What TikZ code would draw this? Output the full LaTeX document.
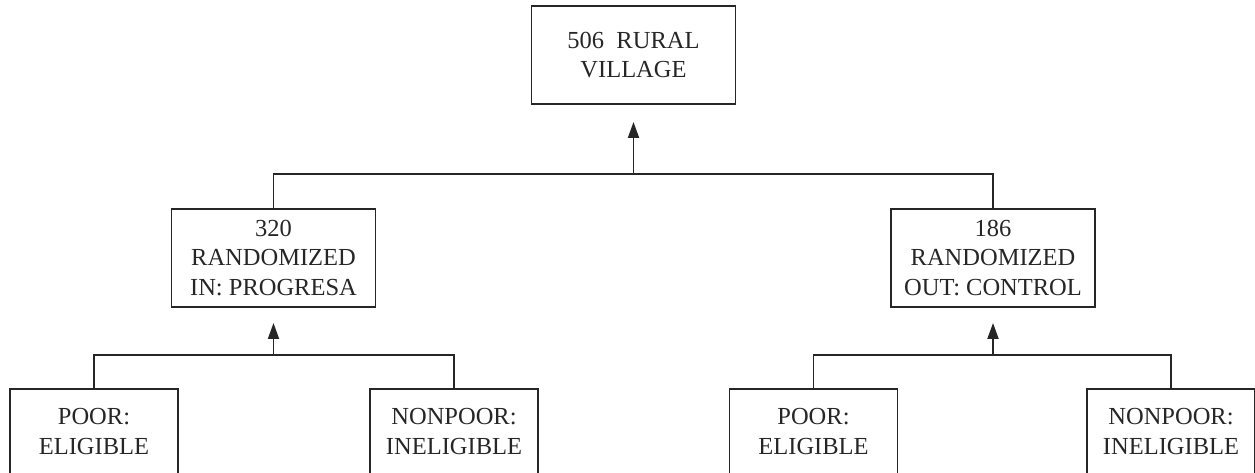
\documentclass[tikz,border=0pt]{standalone}
\usepackage{fontspec}
\setmainfont{Liberation Serif}
\usepackage{xcolor}
\usepackage{tikz}
\usetikzlibrary{arrows.meta, positioning, calc}
\definecolor{tinta}{HTML}{262626}
\tikzset{
  every picture/.style={>=Triangle},
  caja/.style={draw=tinta, text=tinta, line width=1.9pt, align=center, inner sep=0pt,
               font=\fontsize{24.5}{29.5}\selectfont},
  grande/.style={caja, minimum width=204pt, minimum height=98pt},
  chica/.style={caja, minimum width=168pt, minimum height=85pt},
  linea/.style={draw=tinta, line width=1.9pt},
  flecha/.style={linea, -{Triangle[length=16pt, width=11pt]}},
}
\begin{document}
\begin{tikzpicture}[x=1pt, y=-1pt]
  \useasboundingbox (0,0) rectangle (1255,472);
  \node[grande] (pueblo) at (633.5,55) {506~~RURAL\\VILLAGE};
  \node[grande] (prog) at (273.5,258) {320\\RANDOMIZED\\IN: PROGRESA};
  \node[grande] (ctrl) at (993,258) {186\\RANDOMIZED\\OUT: CONTROL};
  \node[chica] (pp) at (94,431.5) {POOR:\\ELIGIBLE};
  \node[chica] (pn) at (454,431.5) {NONPOOR:\\INELIGIBLE};
  \node[chica] (cp) at (813.5,431.5) {POOR:\\ELIGIBLE};
  \node[chica] (cn) at (1171,431.5) {NONPOOR:\\INELIGIBLE};
  % ramas
  \coordinate (jt) at (pueblo.south |- 0,174);
  \coordinate (jp) at (prog.south |- 0,355);
  \coordinate (jc) at (ctrl.south |- 0,355);
  \draw[linea] (prog.north) |- (jt) -| (ctrl.north);
  \draw[flecha] (jt) -- ([yshift=-17pt]pueblo.south);
  \draw[linea] (pp.north) |- (jp) -| (pn.north);
  \draw[flecha] (jp) -- ([yshift=-15pt]prog.south);
  \draw[linea] (cp.north) |- (jc) -| (cn.north);
  \draw[flecha] (jc) -- ([yshift=-15pt]ctrl.south);
\end{tikzpicture}
\end{document}
